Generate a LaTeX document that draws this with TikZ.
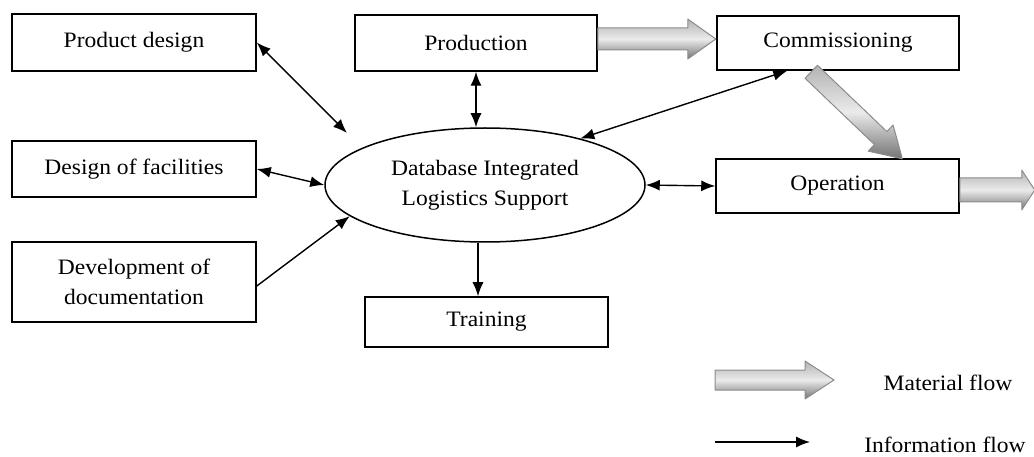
\documentclass[tikz,border=0pt]{standalone}
\usepackage{fontspec}
\setmainfont{Liberation Serif}[FakeStretch=1.07]
\usetikzlibrary{arrows.meta,calc,shapes.geometric}
\tikzset{
  box/.style={draw=black, line width=1.5pt, minimum width=242pt, minimum height=56pt, inner sep=0pt, align=center},
  info/.style={line width=1.4pt, black},
  mat/.style={draw=black!45, line width=1pt, top color=black!30, bottom color=black!55, middle color=black!8, line join=round}
}
\newcommand\matarrow[6]{%
  \begin{scope}[shift={#1}, rotate=#2]
    \draw[mat] (0,-#4) -- (#3-#6,-#4) -- (#3-#6,-#5) -- (#3,0) -- (#3-#6,#5) -- (#3-#6,#4) -- (0,#4) -- cycle;
  \end{scope}}
\begin{document}
\begin{tikzpicture}[x=1pt,y=-1pt, font=\fontsize{22}{30}\selectfont, >={Latex[length=14pt,width=11pt]}]
\useasboundingbox (0,0) rectangle (1034,457);
\node[box, minimum width=244pt, minimum height=57pt] (pd) at (134,42.5) {Product design};
\node[box, minimum width=244pt] (df) at (134,169) {Design of facilities};
\node[box, minimum width=244pt, minimum height=80pt] (dd) at (134,282) {Development of\\documentation};
\node[box] (pr) at (476,43) {Production};
\node[box, minimum height=54pt] (cm) at (838,43) {Commissioning};
\node[box, minimum width=243pt, minimum height=54pt] (op) at (837.5,186) {Operation};
\node[box, minimum width=243pt, minimum height=50pt] (tr) at (486.5,322) {Training};
\node[draw, ellipse, line width=1.5pt, minimum width=320pt, minimum height=114pt, inner sep=0pt, align=center] (db) at (485,185) {Database Integrated\\Logistics Support};

\coordinate (pdend) at (347,133);
\draw[info,<->] (pd.east) -- (pdend);
\draw[info,<->] (df.east) -- (db.west);
\draw[info,->] ([yshift=-4pt]dd.east) -- (db.193);
\draw[info,<->] (pr.south) -- (pr.south |- db.north);
\draw[info,<->] ([xshift=71pt]cm.south west) -- (db.26);
\draw[info,<->] (db.east) -- (op.west);
\draw[info,->] ([xshift=-7pt]db.south) -- ([xshift=-7pt]db.south |- tr.north);

\matarrow{($(pr.east)+(0,-4)$)}{0}{118}{11}{20}{28}
\matarrow{($(cm.south west)+(95,1)$)}{-43.7}{126}{9}{18}{30}
\matarrow{($(op.east)+(0,4)$)}{0}{75}{12}{20}{13}

\coordinate (lm) at (715,380);
\matarrow{(lm)}{0}{119}{10}{19}{29}
\node (lmt) at (948,383) {Material flow};
\coordinate (li) at (715,442);
\draw[info,->] (li) -- ++(95,0);
\node (lit) at (945,445) {Information flow};
\end{tikzpicture}
\end{document}
